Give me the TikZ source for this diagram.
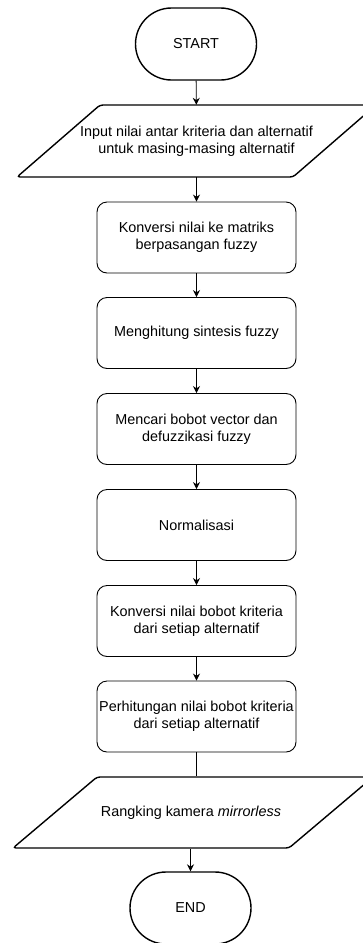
\documentclass[tikz,border=0pt]{standalone}
\usepackage{fontspec}
\setmainfont{Liberation Sans}
\usetikzlibrary{arrows.meta}

\tikzset{
  terminal/.style={draw, line width=1.4pt, rounded corners=36pt,
    minimum width=121pt, minimum height=72pt, align=center},
  proses/.style={draw, line width=0.9pt, rounded corners=10pt,
    minimum width=199pt, minimum height=71pt, inner xsep=1pt, align=center},
  datatext/.style={minimum height=72pt, align=center},
  parallel/.style={line width=1.4pt, rounded corners=3pt},
  panah/.style={line width=0.9pt, -{Stealth[length=7pt,width=7pt]}}
}

\begin{document}
\begin{tikzpicture}[x=1pt, y=-1pt, font=\fontsize{14.4}{17}\selectfont]
    \useasboundingbox (0,0) rectangle (363,943);

    % Mulai
    \node[terminal] (mulai) at (196,44) {START};

    % Input data
    \draw[parallel] (17,177) -- (100,105) -- (376,105) -- (293,177) -- cycle;
    \node[datatext] (input) at (196.5,141)
      {Input nilai antar kriteria dan alternatif\\untuk masing-masing alternatif};

    % Proses
    \node[proses] (konversi) at (196.5,237.5) {Konversi nilai ke matriks\\berpasangan fuzzy};
    \node[proses] (sintesis) at (196.5,333) {Menghitung sintesis fuzzy};
    \node[proses] (bobot) at (196.5,429) {Mencari bobot vector dan\\defuzzikasi fuzzy};
    \node[proses] (normal) at (196.5,525) {Normalisasi};
    \node[proses] (konbobot) at (196.5,621) {Konversi nilai bobot kriteria\\dari setiap alternatif};
    \node[proses] (hitung) at (196.5,716.5) {Perhitungan nilai bobot kriteria\\dari setiap alternatif};

    % Output
    \draw[parallel] (13,848) -- (97,777) -- (373,777) -- (289,848) -- cycle;
    \node[datatext] (rangking) at (191,812.5) {Rangking kamera \textit{mirrorless}};

    % Selesai
    \node[terminal] (selesai) at (190.5,908) {END};

    % Panah
    \draw[panah] (mulai) -- (input);
    \draw[panah] (input) -- (konversi);
    \draw[panah] (konversi) -- (sintesis);
    \draw[panah] (sintesis) -- (bobot);
    \draw[panah] (bobot) -- (normal);
    \draw[panah] (normal) -- (konbobot);
    \draw[panah] (konbobot) -- (hitung);
    \draw[line width=0.9pt] (hitung) -- (hitung |- rangking.north);
    \draw[panah] (selesai |- rangking.south) -- (selesai);
  \end{tikzpicture}
\end{document}
